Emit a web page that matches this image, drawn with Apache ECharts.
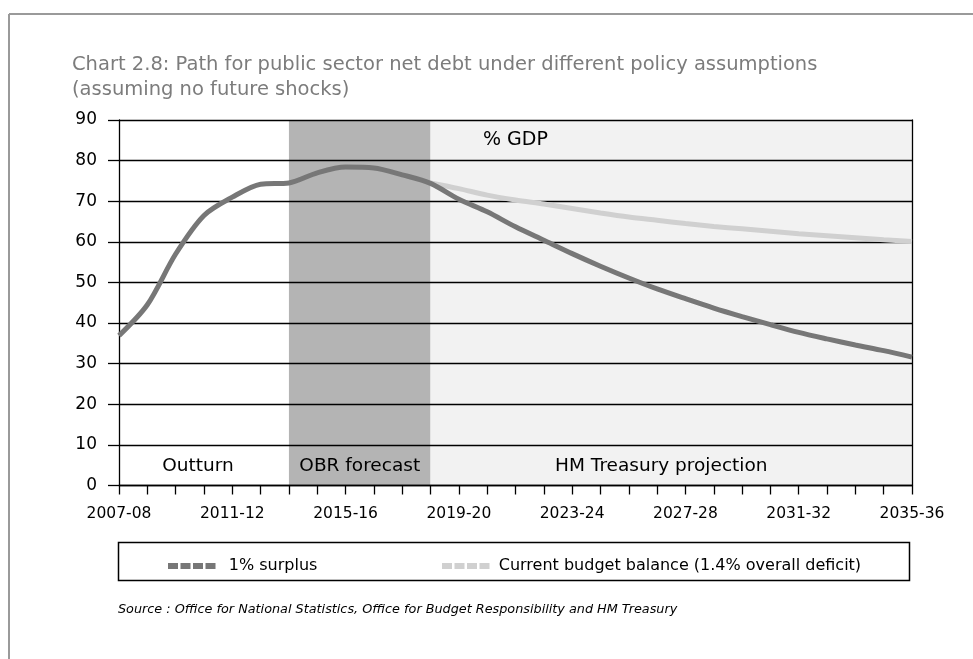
<!DOCTYPE html>
<html>
<head>
<meta charset="utf-8">
<title>Public sector net debt paths</title>
<script src="https://cdn.jsdelivr.net/npm/echarts@6/dist/echarts.min.js"></script>
<style>
  html, body { margin: 0; padding: 0; background: #fff; }
  #chart { width: 973px; height: 659px; }
</style>
</head>
<body>
<div id="chart"></div>
<script>
// Financial years shown on the horizontal axis
const years = [
  '2007-08', '2008-09', '2009-10', '2010-11', '2011-12', '2012-13', '2013-14',
  '2014-15', '2015-16', '2016-17', '2017-18', '2018-19', '2019-20', '2020-21',
  '2021-22', '2022-23', '2023-24', '2024-25', '2025-26', '2026-27', '2027-28',
  '2028-29', '2029-30', '2030-31', '2031-32', '2032-33', '2033-34', '2034-35',
  '2035-36'
];

// Net debt, % of GDP, under a 1% surplus
const surplusPath = [
  36.9, 44.5, 57.0, 66.5, 71.0, 74.2, 74.5, 77.0, 78.4, 78.2, 76.5, 74.4,
  70.5, 67.4, 63.7, 60.4, 57.1, 54.0, 51.1, 48.4, 46.0, 43.7, 41.6, 39.6,
  37.7, 36.1, 34.6, 33.2, 31.6
];

// Net debt, % of GDP, with current budget balance (1.4% overall deficit)
const balancePath = [
  null, null, null, null, null, null, null, null, null, null, null,
  74.5, 73.1, 71.5, 70.3, 69.3, 68.2, 67.1, 66.1, 65.3, 64.5, 63.8,
  63.2, 62.6, 62.0, 61.5, 61.0, 60.5, 60.1
];

// Period bands: [label, first year, last year]
const periods = [
  ['Outturn', '2007-08', '2013-14'],
  ['OBR forecast', '2013-14', '2018-19'],
  ['HM Treasury projection', '2018-19', '2035-36']
];

const seriesNames = ['1% surplus', 'Current budget balance (1.4% overall deficit)'];

const FONT = 'DejaVu Sans, sans-serif';
const bandFills = ['rgba(255,255,255,0)', '#b4b4b4', '#f2f2f2'];
const bandLabelOffsets = [[-6, 0], [0, 0], [-10, 0]];

const chart = echarts.init(document.getElementById('chart'), null, { renderer: 'canvas' });

const legendIcon = 'path://M0,0h10v6h-10z M12.5,0h10v6h-10z M25,0h10v6h-10z M37.5,0h10v6h-10z';

const option = {
  animation: false,
  backgroundColor: '#ffffff',
  textStyle: { fontFamily: FONT },
  title: {
    text: 'Chart 2.8: Path for public sector net debt under different policy assumptions\n(assuming no future shocks)',
    left: 67,
    top: 47,
    textStyle: {
      fontFamily: FONT,
      fontSize: 19.5,
      fontWeight: 'normal',
      color: '#7c7c7c',
      lineHeight: 25
    }
  },
  grid: { left: 119, right: 61, top: 120, bottom: 173.5, containLabel: false },
  legend: [
    {
      data: [{ name: seriesNames[0], icon: legendIcon }],
      left: 163, top: 553,
      itemWidth: 48, itemHeight: 6,
      selectedMode: false,
      textStyle: { fontFamily: FONT, fontSize: 16, color: '#000', padding: [0, 0, 0, 8] }
    },
    {
      data: [{ name: seriesNames[1], icon: legendIcon }],
      left: 437, top: 553,
      itemWidth: 48, itemHeight: 6,
      selectedMode: false,
      textStyle: { fontFamily: FONT, fontSize: 16, color: '#000', padding: [0, 0, 0, 4] }
    }
  ],
  xAxis: {
    type: 'category',
    data: years,
    boundaryGap: false,
    z: 2,
    axisLine: { show: true, lineStyle: { color: '#000', width: 1.3 } },
    axisTick: { show: true, interval: 0, length: 9, lineStyle: { color: '#000', width: 1.3 } },
    axisLabel: {
      interval: 3,
      margin: 20,
      fontFamily: FONT,
      fontSize: 15.5,
      color: '#000',
      showMaxLabel: true
    },
    splitLine: { show: false }
  },
  yAxis: [
    {
      type: 'value',
      min: 0,
      max: 90,
      interval: 10,
      z: 2,
      axisLine: { show: true, lineStyle: { color: '#000', width: 1.3 } },
      axisTick: { show: true, length: 11, lineStyle: { color: '#000', width: 1.3 } },
      axisLabel: { margin: 22, fontFamily: FONT, fontSize: 17, color: '#000' },
      splitLine: { show: true, lineStyle: { color: '#000', width: 1.3 } }
    },
    {
      type: 'value',
      min: 0,
      max: 90,
      interval: 10,
      position: 'right',
      z: 2,
      axisLine: { show: true, lineStyle: { color: '#000', width: 1.3 } },
      axisTick: { show: false },
      axisLabel: { show: false },
      splitLine: { show: false }
    }
  ],
  series: [
    {
      name: seriesNames[1],
      type: 'line',
      data: balancePath,
      z: 3,
      smooth: 0.3,
      showSymbol: false,
      connectNulls: false,
      lineStyle: { color: '#d0d0d0', width: 5 },
      itemStyle: { color: '#d0d0d0' },
      markArea: {
        silent: true,
        z: 1,
        data: periods.map((p, i) => [
          {
            name: p[0],
            xAxis: p[1],
            yAxis: 0,
            itemStyle: { color: bandFills[i] },
            label: {
              show: true,
              position: 'insideBottom',
              distance: 10,
              offset: bandLabelOffsets[i],
              fontFamily: FONT,
              fontSize: 18.5,
              color: '#000'
            }
          },
          { xAxis: p[2], yAxis: 90 }
        ])
      }
    },
    {
      name: seriesNames[0],
      type: 'line',
      data: surplusPath,
      z: 4,
      smooth: 0.3,
      showSymbol: false,
      lineStyle: { color: '#777777', width: 5 },
      itemStyle: { color: '#777777' }
    }
  ],
  graphic: [
    // outer frame, top and left edges
    { type: 'line', shape: { x1: 9, y1: 14, x2: 973, y2: 14 }, style: { stroke: '#9a9a9a', lineWidth: 2 } },
    { type: 'line', shape: { x1: 9, y1: 14, x2: 9, y2: 659 }, style: { stroke: '#9a9a9a', lineWidth: 2 } },
    // unit label
    { type: 'text', left: 483, top: 131, z: 10, style: { text: '% GDP', font: '19px ' + FONT, fill: '#000' } },
    // legend frame
    { type: 'rect', shape: { x: 118.5, y: 542.5, width: 791, height: 38 }, style: { fill: 'none', stroke: '#000', lineWidth: 1.5 } },
    // source note
    {
      type: 'text', left: 118, top: 603,
      style: {
        text: 'Source : Office for National Statistics, Office for Budget Responsibility and HM Treasury',
        font: 'italic 12.8px ' + FONT,
        fill: '#000'
      }
    }
  ]
};

chart.setOption(option);
</script>
</body>
</html>
